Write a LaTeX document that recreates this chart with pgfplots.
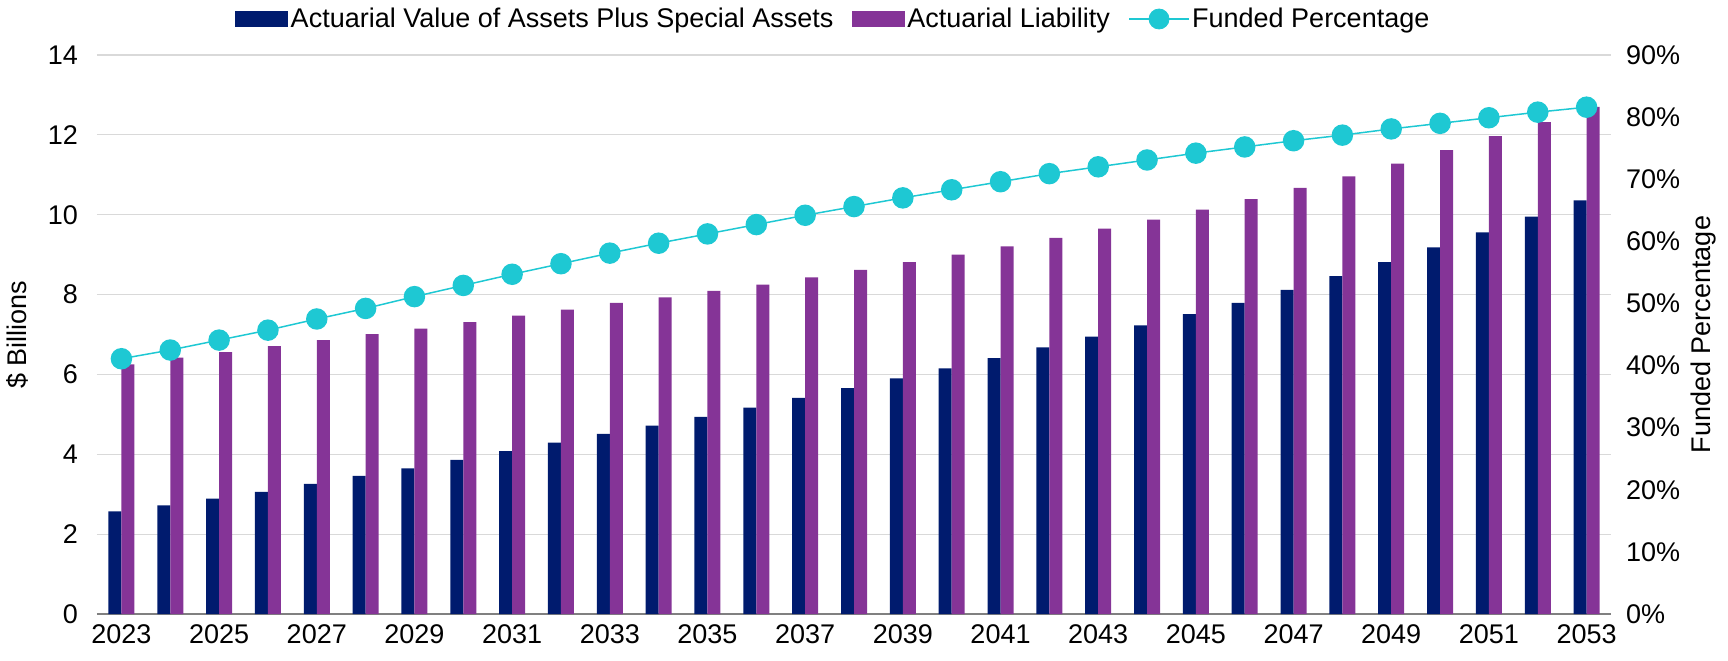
\documentclass[border=0pt]{standalone}
\usepackage{pgfplots}
\pgfplotsset{compat=1.18}
\usepackage{pgfplotstable}
\usepackage{fontspec}
\setmainfont{Liberation Sans}
\definecolor{navy}{RGB}{0,27,110}
\definecolor{purp}{RGB}{133,52,151}
\definecolor{cyanl}{RGB}{30,200,211}
\definecolor{gridg}{RGB}{217,217,217}
\definecolor{axg}{RGB}{128,128,128}

\pgfplotstableread{
year ava al fp
2023 2.57 6.25 41.1
2024 2.72 6.42 42.5
2025 2.89 6.56 44.1
2026 3.06 6.71 45.7
2027 3.26 6.86 47.5
2028 3.46 7.01 49.2
2029 3.65 7.15 51.1
2030 3.86 7.31 52.9
2031 4.08 7.47 54.7
2032 4.29 7.62 56.4
2033 4.51 7.79 58.1
2034 4.72 7.93 59.7
2035 4.94 8.09 61.2
2036 5.17 8.25 62.7
2037 5.41 8.43 64.2
2038 5.66 8.62 65.6
2039 5.90 8.81 67.0
2040 6.15 9.00 68.3
2041 6.41 9.21 69.6
2042 6.68 9.42 70.9
2043 6.95 9.65 72.0
2044 7.23 9.88 73.1
2045 7.51 10.13 74.2
2046 7.79 10.39 75.2
2047 8.12 10.67 76.2
2048 8.46 10.96 77.1
2049 8.81 11.28 78.1
2050 9.18 11.62 79.0
2051 9.56 11.97 79.9
2052 9.95 12.32 80.8
2053 10.36 12.70 81.6
}\datatable

\begin{document}
\begin{tikzpicture}
\useasboundingbox (-48.5pt,-23pt) rectangle (815.5pt,307pt);
\pgfplotsset{
  commonstyle/.style={
    at={(0pt,0pt)}, anchor=south west, scale only axis,
    width=757pt, height=279.5pt,
    xmin=2022.5, xmax=2053.5,
    /pgf/number format/assume math mode=true,
    /pgf/number format/1000 sep={},
    tick style={draw=none},
    every tick label/.append style={font=\fontsize{13.5}{16}\selectfont},
    label style={font=\fontsize{13.5}{16}\selectfont},
  }
}
\begin{axis}[
  commonstyle,
  ymin=0, ymax=14, ytick={0,2,...,14},
  xtick={2023,2025,...,2053},
  axis x line*=bottom, axis y line*=left,
  x axis line style={draw=axg, line width=0.7pt, -},
  y axis line style={draw=none},
  ymajorgrids, grid style={draw=gridg, line width=0.6pt},
  yticklabel style={xshift=-6pt},
  xticklabel style={yshift=-2pt},
  ylabel={\$ Billions},
  ylabel style={at={(axis description cs:-0.0528,0.5)}, anchor=center},
  legend columns=3,
  legend style={at={(axis description cs:0.4865,1.0644)}, anchor=center,
    draw=none, fill=none, font=\fontsize{13.5}{16}\selectfont,
    /tikz/every even column/.append style={column sep=8pt},
    nodes={inner sep=1.2pt}},
  legend cell align=left,
]
\addplot[ybar, bar width=6.5pt, bar shift=-3.25pt, fill=navy, draw=none,
  legend image code/.code={\fill[navy] (0pt,-4pt) rectangle (26.5pt,4pt);}]
  table[x=year,y=ava]{\datatable};
\addlegendentry{Actuarial Value of Assets Plus Special Assets}
\addplot[ybar, bar width=6.5pt, bar shift=3.25pt, fill=purp, draw=none,
  legend image code/.code={\fill[purp] (0pt,-4pt) rectangle (26.5pt,4pt);}]
  table[x=year,y=al]{\datatable};
\addlegendentry{Actuarial Liability}
\addlegendimage{legend image code/.code={\draw[cyanl, line width=0.75pt] (0pt,0pt) -- (30pt,0pt); \fill[cyanl] (15pt,0pt) circle (5pt);}}
\addlegendentry{Funded Percentage}
\end{axis}
\begin{axis}[
  commonstyle,
  ymin=0, ymax=90, ytick={0,10,...,90},
  axis x line=none,
  axis y line*=right,
  y axis line style={draw=none},
  yticklabel={\pgfmathprintnumber{\tick}\%},
  yticklabel style={xshift=4pt},
  ylabel={Funded Percentage},
  ylabel style={at={(axis description cs:1.0608,0.5)}, anchor=center},
]
\addplot[cyanl, line width=0.75pt, mark=*, mark size=5pt, mark options={fill=cyanl, draw=cyanl}]
  table[x=year,y=fp]{\datatable};
\end{axis}
\end{tikzpicture}
\end{document}
